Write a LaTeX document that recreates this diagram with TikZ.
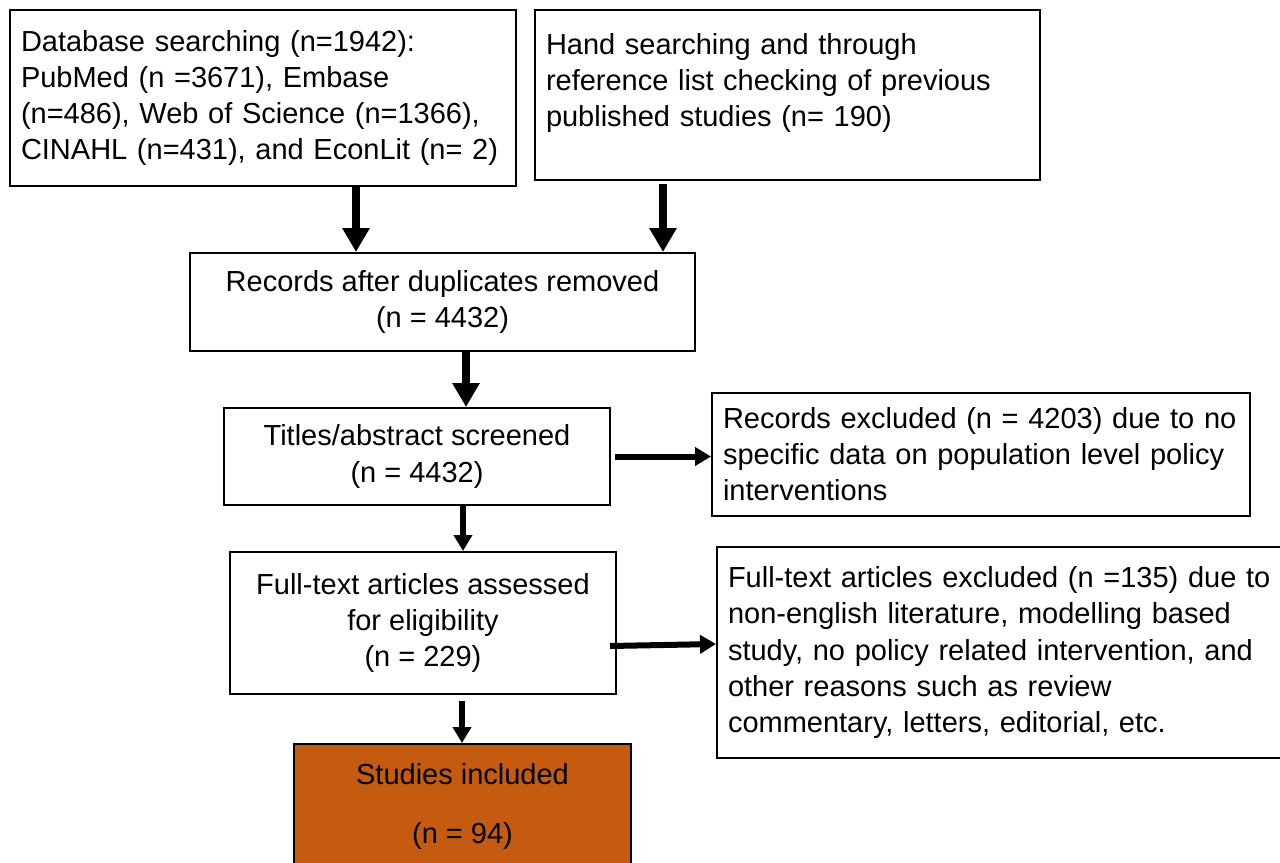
\documentclass[tikz,border=0pt]{standalone}
\usepackage{fontspec}
\setmainfont{Liberation Sans}
\usetikzlibrary{arrows.meta}

\definecolor{incl}{RGB}{197,90,17}
\newcommand{\boxfont}{\fontsize{16.5pt}{20.5pt}\selectfont}

\begin{document}
\begin{tikzpicture}[
        % --- Box styles ---
        box/.style={
            draw, line width=0.04cm, inner sep=0.25cm,
            align=center, font=\boxfont
        },
        leftbox/.style={box, align=left, inner xsep=0.22cm},
        % --- Arrow styles ---
        flow/.style={-{Triangle[width=0.52cm, length=0.48cm]}, line width=0.16cm},
        thinflow/.style={-{Triangle[width=0.36cm, length=0.32cm]}, line width=0.12cm},
    ]

    % ===== Frame =====
    \useasboundingbox (0, 0) rectangle (25.6, -17.26);
    \clip (0, 0) rectangle (25.6, -17.26);

    % ===== Identification =====
    \node[leftbox, minimum width=10.12cm, minimum height=3.52cm, text width=9.68cm] (db)
        at (5.26, -1.96)
        {Database searching (n=1942):\\PubMed (n =3671), Embase\\(n=486), Web of Science (n=1366),\\CINAHL (n=431), and EconLit (n= 2)};
    \node[leftbox, minimum width=10.1cm, minimum height=3.4cm, text width=9.66cm] (hs)
        at (15.75, -1.90)
        {Hand searching and through\\reference list checking of previous\\published studies (n= 190)\\[-0.12cm]\mbox{}};

    % ===== Screening =====
    \node[box, minimum width=10.1cm, minimum height=1.96cm] (rd)
        at (8.85, -6.04) {Records after duplicates removed\\(n = 4432)};
    \node[box, minimum width=7.72cm, minimum height=1.94cm] (ta)
        at (8.34, -9.13) {Titles/abstract screened\\(n = 4432)};
    \node[leftbox, minimum width=10.76cm, minimum height=2.46cm, text width=10.32cm] (rx)
        at (19.62, -9.09)
        {Records excluded (n = 4203) due to no\\specific data on population level policy\\interventions};

    % ===== Eligibility =====
    \node[box, minimum width=7.72cm, minimum height=2.84cm] (ft)
        at (8.46, -12.46) {Full-text articles assessed\\for eligibility\\(n = 229)};
    \node[leftbox, minimum width=11.66cm, minimum height=4.22cm, text width=11.22cm] (fx)
        at (20.17, -13.05)
        {Full-text articles excluded (n =135) due to\\non-english literature, modelling based\\study, no policy related intervention, and\\other reasons such as review\\commentary, letters, editorial, etc.};

    % ===== Included =====
    \node[box, fill=incl, minimum width=6.74cm, minimum height=2.48cm] (st)
        at (9.25, -16.12) {Studies included\\[0.46cm](n = 94)};

    % ===== Arrows =====
    \coordinate (a1) at ([xshift=1.86cm]db.south);
    \coordinate (a2) at ([xshift=-2.49cm, yshift=-0.06cm]hs.south);
    \coordinate (a3) at ([xshift=0.47cm]rd.south);
    \coordinate (a4) at ([xshift=0.08cm]ta.east);
    \coordinate (a5) at ([xshift=0.92cm]ta.south);
    \coordinate (a6) at ([xshift=-0.14cm, yshift=-0.46cm]ft.east);
    \coordinate (a7) at ([xshift=0.78cm, yshift=-0.12cm]ft.south);

    \draw[flow] (a1) -- (a1 |- rd.north);
    \draw[flow] (a2) -- (a2 |- rd.north);
    \draw[flow] (a3) -- (a3 |- ta.north);
    \draw[thinflow] (a4) -- (a4 -| rx.west);
    \draw[thinflow] (a5) -- (a5 |- ft.north);
    \draw[thinflow] (a6) -- ([yshift=0.17cm]fx.west);
    \draw[thinflow] (a7) -- (a7 |- st.north);

\end{tikzpicture}
\end{document}
